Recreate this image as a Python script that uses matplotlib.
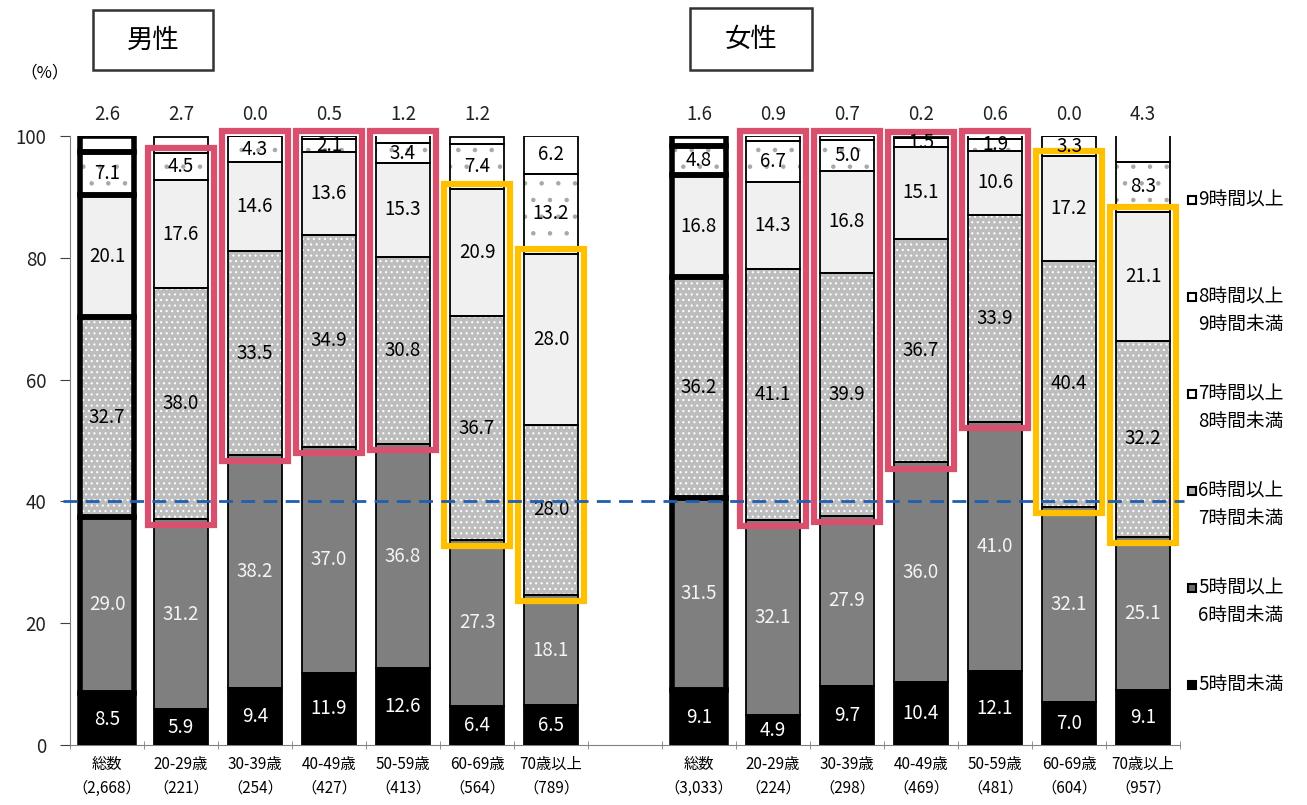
import numpy as np
import matplotlib.pyplot as plt
from matplotlib.patches import Rectangle

plt.rcParams['font.family'] = ['Noto Sans CJK JP', 'DejaVu Sans']
plt.rcParams['hatch.linewidth'] = 0.8

groups = ['男性', '女性']
ages = ['総数', '20-29歳', '30-39歳', '40-49歳', '50-59歳', '60-69歳', '70歳以上']
men_n = ['2,668', '221', '254', '427', '413', '564', '789']
women_n = ['3,033', '224', '298', '469', '481', '604', '957']
sleep_cats = ['5時間未満', '5時間以上\n6時間未満', '6時間以上\n7時間未満',
              '7時間以上\n8時間未満', '8時間以上\n9時間未満', '9時間以上']

# columns: <5h, 5-6h, 6-7h, 7-8h, 8-9h, 9h+
men = [
    [8.5, 29.0, 32.7, 20.1, 7.1, 2.6],
    [5.9, 31.2, 38.0, 17.6, 4.5, 2.7],
    [9.4, 38.2, 33.5, 14.6, 4.3, 0.0],
    [11.9, 37.0, 34.9, 13.6, 2.1, 0.5],
    [12.6, 36.8, 30.8, 15.3, 3.4, 1.2],
    [6.4, 27.3, 36.7, 20.9, 7.4, 1.2],
    [6.5, 18.1, 28.0, 28.0, 13.2, 6.2],
]
women = [
    [9.1, 31.5, 36.2, 16.8, 4.8, 1.6],
    [4.9, 32.1, 41.1, 14.3, 6.7, 0.9],
    [9.7, 27.9, 39.9, 16.8, 5.0, 0.7],
    [10.4, 36.0, 36.7, 15.1, 1.5, 0.2],
    [12.1, 41.0, 33.9, 10.6, 1.9, 0.6],
    [7.0, 32.1, 40.4, 17.2, 3.3, 0.0],
    [9.1, 25.1, 32.2, 21.1, 8.3, 4.3],
]
# highlight frames: (color, first segment, last segment)
men_boxes = [None, ('pink', 2, 4), ('pink', 2, 5), ('pink', 2, 5), ('pink', 2, 5),
             ('orange', 2, 3), ('orange', 2, 3)]
women_boxes = [None, ('pink', 2, 5), ('pink', 2, 5), ('pink', 2, 5), ('pink', 2, 5),
               ('orange', 2, 3), ('orange', 2, 3)]

vals = np.array(men + women)
bottoms = np.cumsum(vals, axis=1) - vals
x = np.concatenate([np.arange(7), np.arange(8, 15)])
boxes = men_boxes + women_boxes
ticklabels = [f'{a}\n（{n}）' for a, n in zip(ages + ages, men_n + women_n)]

faces = ['black', '#7f7f7f', '#bdbdbd', '#f0f0f0', 'white', 'white']
hatches = [None, None, '...', None, '.', None]
hatch_cols = [None, None, 'white', None, '#a8a8a8', None]
txt_cols = ['white', '#f4f4f4', 'black', 'black', 'black', 'black']
box_cols = {'pink': '#d9506f', 'orange': '#ffc000'}

W, H = 1307, 805
fig = plt.figure(figsize=(W / 100, H / 100), dpi=100)
ax = fig.add_axes([70 / W, 60 / H, 1110 / W, 609 / H])

bw = 0.73
lw = [4 if i % 7 == 0 else 1.3 for i in range(len(x))]
for k in range(6):
    ax.bar(x, vals[:, k], bottom=bottoms[:, k], width=bw, color=faces[k],
           linewidth=0, zorder=1)
    if hatches[k]:
        ax.bar(x, vals[:, k], bottom=bottoms[:, k], width=bw, color='none',
               edgecolor=hatch_cols[k], hatch=hatches[k], linewidth=0, zorder=2)
    ax.bar(x, vals[:, k], bottom=bottoms[:, k], width=bw, color='none',
           edgecolor='black', linewidth=lw, zorder=3)

for i, xi in enumerate(x):
    for k in range(6):
        v = vals[i, k]
        if k == 5 and v < 5:
            ax.text(xi, 103.6, f'{v:.1f}', ha='center', va='center', fontsize=13.5,
                    color='#222222', clip_on=False)
        else:
            ax.text(xi, bottoms[i, k] + v / 2, f'{v:.1f}', ha='center', va='center',
                    fontsize=13.5, color=txt_cols[k], zorder=6)
    b = boxes[i]
    if b:
        col, s0, s1 = b
        y0 = bottoms[i, s0] - 1.0
        y1 = bottoms[i, s1] + vals[i, s1] + 0.8
        ax.add_patch(Rectangle((xi - 0.44, y0), 0.88, y1 - y0, fill=False,
                               edgecolor=box_cols[col], linewidth=4.5, zorder=5,
                               clip_on=False))

ax.plot([-0.6, 14.55], [40, 40], color='#1f5fae', linestyle=(0, (5, 3)),
        linewidth=2, zorder=7, clip_on=False)

ax.set_xlim(-0.5, 14.5)
ax.set_ylim(0, 100)
ax.set_yticks(range(0, 101, 20))
ax.set_xticks(x)
ax.set_xticklabels(ticklabels, fontsize=11, linespacing=1.5)
ax.set_xticks(np.arange(-0.5, 14.6, 1), minor=True)
ax.tick_params(axis='x', which='major', length=0, pad=8)
ax.tick_params(axis='x', which='minor', length=6, direction='inout', color='#808080')
ax.tick_params(axis='y', length=7, direction='out', color='#404040', labelsize=13.5,
               labelcolor='#222222', pad=10)
for s in ['top', 'right']:
    ax.spines[s].set_visible(False)
ax.spines['left'].set_color('#808080')
ax.spines['bottom'].set_color('#808080')
ax.spines['left'].set_bounds(0, 100)

# group title boxes
for (x0, x1, y0, y1), g in zip([(93, 213, 10, 70), (690, 812, 8, 70)], groups):
    fig.patches.append(Rectangle((x0 / W, 1 - y1 / H), (x1 - x0) / W, (y1 - y0) / H,
                                 transform=fig.transFigure, fill=False,
                                 edgecolor='#333333', linewidth=1.8))
    fig.text((x0 + x1) / 2 / W, 1 - (y0 + y1) / 2 / H, g, ha='center', va='center',
             fontsize=19)

fig.text(45 / W, 1 - 73 / H, '（%）', ha='center', va='center', fontsize=12)

# legend on the right, top to bottom
leg_faces = ['white', 'white', 'white', '#b0b0b0', '#6a6a6a', 'black']
leg_y = [200, 297, 394, 491, 588, 685]
for j, lab in enumerate(reversed(sleep_cats)):
    yc = leg_y[j]
    fig.patches.append(Rectangle((1188 / W, 1 - (yc + 4) / H), 8 / W, 8 / H,
                                 transform=fig.transFigure, facecolor=leg_faces[j],
                                 edgecolor='black', linewidth=1.5))
    fig.text(1198 / W, 1 - (yc - 11) / H, lab, ha='left', va='top', fontsize=13.5,
             multialignment='right', linespacing=1.45)

fig.savefig('out.png', dpi=100)
